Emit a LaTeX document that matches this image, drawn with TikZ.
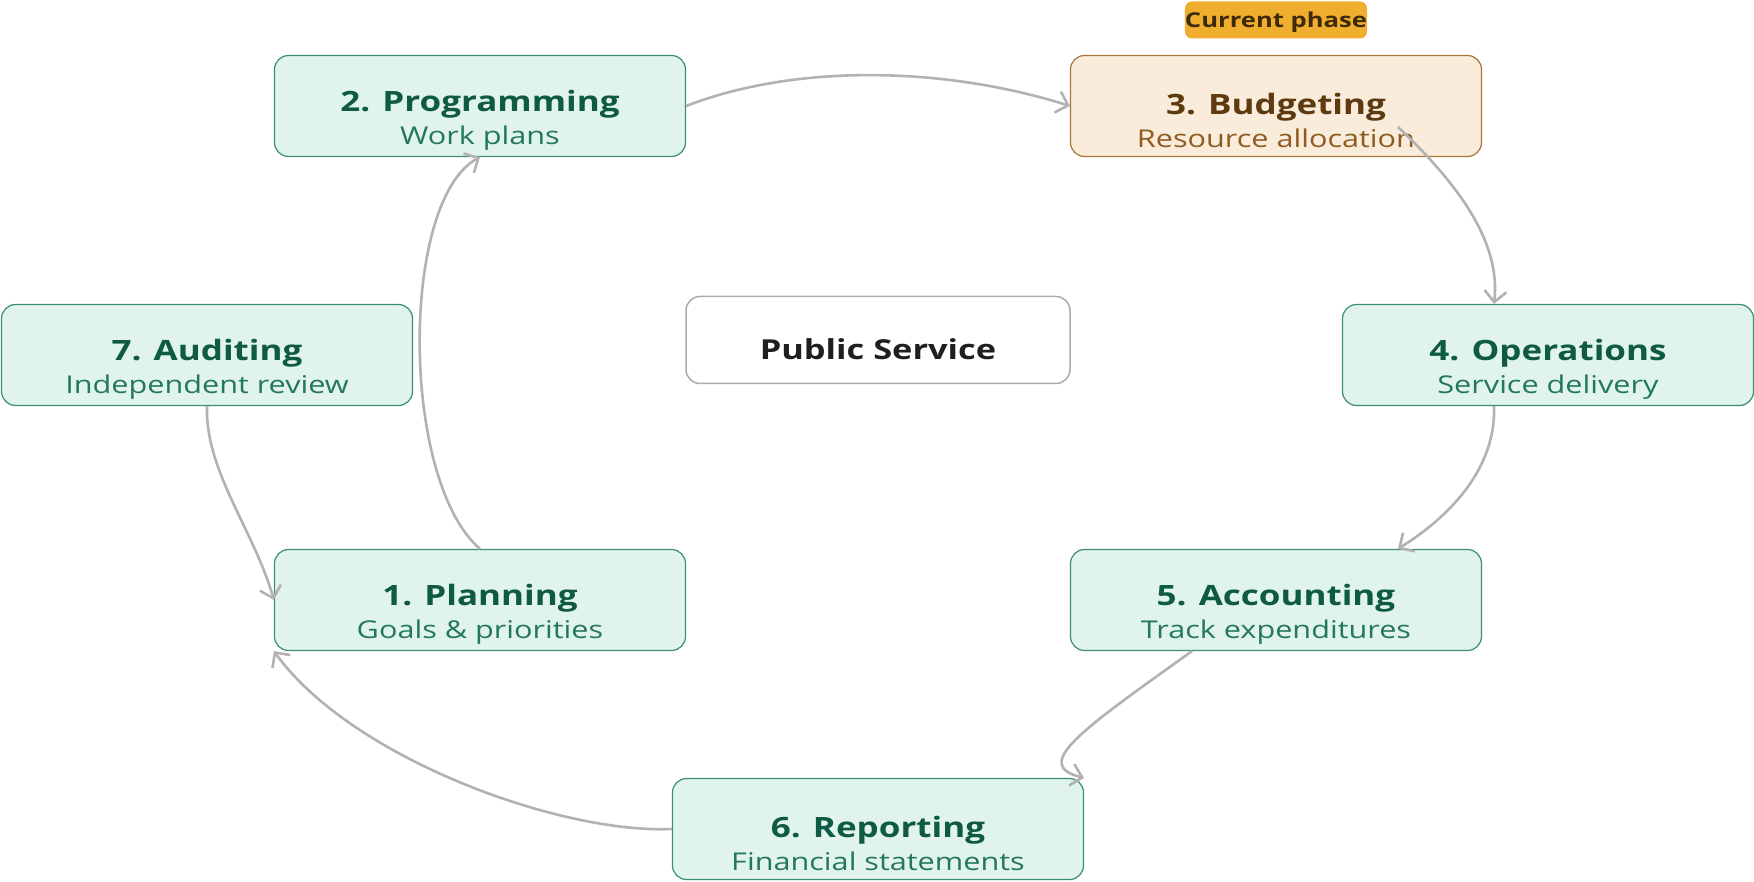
\documentclass[tikz,border=0pt]{standalone}
\usepackage{fontspec}
\setmainfont{Open Sans}[FakeStretch=1.25]
\usetikzlibrary{arrows.meta,calc}

\definecolor{stepfill}{HTML}{E1F4EC}
\definecolor{stepline}{HTML}{3A8F72}
\definecolor{steptitle}{HTML}{0E5A44}
\definecolor{stepsub}{HTML}{23785C}
\definecolor{curfill}{HTML}{FAECDA}
\definecolor{curline}{HTML}{A8753A}
\definecolor{curtitle}{HTML}{5E3A10}
\definecolor{cursub}{HTML}{8E5C22}
\definecolor{tagfill}{HTML}{F0AE2E}
\definecolor{tagtext}{HTML}{3E2A08}
\definecolor{hubline}{HTML}{ABABAB}
\definecolor{flow}{HTML}{B2B2B2}

% title line, with a strut that pushes both lines a little down
\newcommand{\phasetitle}[1]{\rule{0pt}{50pt}{\bfseries\fontsize{28}{33}\selectfont #1}}

\begin{document}
\begin{tikzpicture}[x=1pt,y=-1pt,
	phase/.style={draw=stepline, fill=stepfill, line width=1.2pt,
		rounded corners=14pt, minimum width=411pt, minimum height=101pt,
		inner sep=0pt, align=center, text=stepsub,
		font=\fontsize{24.5}{33}\selectfont},
	current/.style={draw=curline, fill=curfill, text=cursub},
	hub/.style={draw=hubline, line width=1.5pt, rounded corners=14pt,
		minimum width=384pt, minimum height=87pt, inner sep=0pt,
		text height=40pt, text depth=0pt, text=black!88,
		font=\bfseries\fontsize{27.5}{30}\selectfont},
	tag/.style={fill=tagfill, rounded corners=7pt, minimum width=180pt,
		minimum height=37pt, inner sep=0pt, text=tagtext,
		text height=16pt, text depth=1pt,
		font=\bfseries\fontsize{20.5}{24}\selectfont},
	flow/.style={draw=flow, line width=2.6pt,
		-{Straight Barb[length=11pt,width=22pt]}}]

	\useasboundingbox (0,0) rectangle (1754,882);

	% the cycle
	\node[phase] (p1) at (480,600) {\color{steptitle}\phasetitle{1. Planning}\\Goals \& priorities};
	\node[phase] (p2) at (480,106) {\color{steptitle}\phasetitle{2. Programming}\\Work plans};
	\node[phase,current] (p3) at (1276,106) {\color{curtitle}\phasetitle{3. Budgeting}\\Resource allocation};
	\node[phase] (p4) at (1548,355) {\color{steptitle}\phasetitle{4. Operations}\\Service delivery};
	\node[phase] (p5) at (1276,600) {\color{steptitle}\phasetitle{5. Accounting}\\Track expenditures};
	\node[phase] (p6) at (878,829) {\color{steptitle}\phasetitle{6. Reporting}\\Financial statements};
	\node[phase] (p7) at (207,355) {\color{steptitle}\phasetitle{7. Auditing}\\Independent review};

	\node[hub] (hub) at (878,340) {Public Service};
	\node[tag] (tag) at (1276,20) {Current phase};

	% connectors
	\draw[flow] (p1.north) .. controls +(-80,-69) and +(-80,43) .. (p2.south);
	\draw[flow] (p2.east) .. controls +(114,-44) and +(-120,-38) .. (p3.west);
	\draw[flow] ($(p3.center)+(122,21)$) .. controls +(72,68) and +(6,-54) .. ($(p4.north)+(-54,0)$);
	\draw[flow] ($(p4.south)+(-54,0)$) .. controls +(2,55) and +(62,-39) .. ($(p5.north)+(122,0)$);
	\draw[flow] ($(p5.south)+(-84,0)$) .. controls +(-112,80) and +(-53,-13) .. (p6.north east);
	\draw[flow] (p6.west) .. controls +(-112,5) and +(77,107) .. (p1.south west);
	\draw[flow] (p7.south) .. controls +(-2,65) and +(-20,-70) .. (p1.west);
\end{tikzpicture}
\end{document}
